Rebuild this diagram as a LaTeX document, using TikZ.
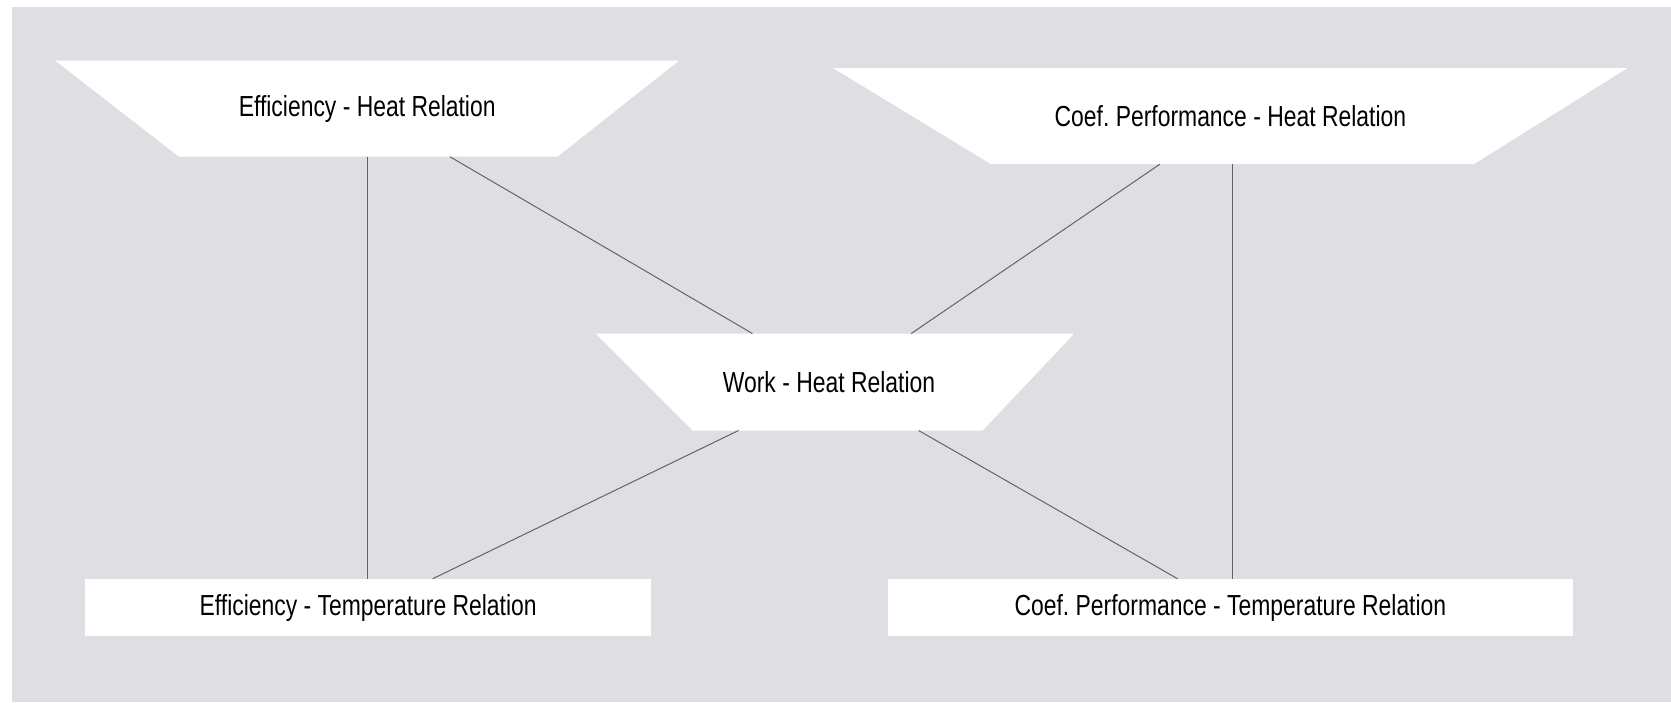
\documentclass[tikz,border=0pt]{standalone}
\usepackage{fontspec}
\setmainfont{Liberation Sans}[FakeStretch=0.79]
\definecolor{panel}{RGB}{223,223,227}
\definecolor{wire}{RGB}{100,100,100}
\frenchspacing
\begin{document}
\begin{tikzpicture}[x=1pt,y=-1pt,
  every node/.style={inner sep=0pt,outer sep=0pt,font=\fontsize{29}{34}\selectfont},
  relbox/.style={rectangle,fill=white,minimum height=57.5pt},
  trapzone/.style={rectangle,minimum height=96pt},
  link/.style={draw=wire,line width=1pt}]
  % canvas and grey panel
  \useasboundingbox (0,0) rectangle (1671,702);
  \fill[white] (0,0) rectangle (1671,702);
  \fill[panel] (12,7) rectangle (1671,702);

  % inverted trapezium outlines
  \fill[white] (55.4,60.7) -- (678.9,60.7) -- (557.4,156.7) -- (179,156.7) -- cycle;
  \fill[white] (833.4,68.2) -- (1627.3,68.2) -- (1473.9,164.1) -- (991,164.1) -- cycle;
  \fill[white] (595.7,333.6) -- (1074.2,333.6) -- (982.6,430.5) -- (692.7,430.5) -- cycle;

  % relation nodes
  \node[trapzone,minimum width=623.5pt] (t1) at (367.2,108.7) {Efficiency - Heat Relation};
  \node[trapzone,minimum width=794pt] (t2) at (1230.4,116.2) {Coef. Performance - Heat Relation};
  \node[trapzone,minimum width=460pt,minimum height=97pt] (w) at (829,382) {Work - Heat Relation};
  \node[relbox,minimum width=566pt] (r4) at (368.2,607.5) {Efficiency - Temperature Relation};
  \node[relbox,minimum width=685.3pt] (r5) at (1230.4,607.5) {Coef. Performance - Temperature Relation};

  % connectors
  \draw[link] (t1.south) -- (t1.south |- r4.north);
  \draw[link] ([xshift=82.7pt]t1.south) -- ([xshift=-76.6pt]w.north);
  \draw[link] ([xshift=-70.5pt]t2.south) -- ([xshift=82.2pt]w.north);
  \draw[link] ([xshift=1.6pt]t2.south) -- ([xshift=1.6pt]t2.south |- r5.north);
  \draw[link] ([xshift=-90.5pt]w.south) -- ([xshift=64.5pt]r4.north);
  \draw[link] ([xshift=89.6pt]w.south) -- ([xshift=-52.8pt]r5.north);
\end{tikzpicture}
\end{document}
